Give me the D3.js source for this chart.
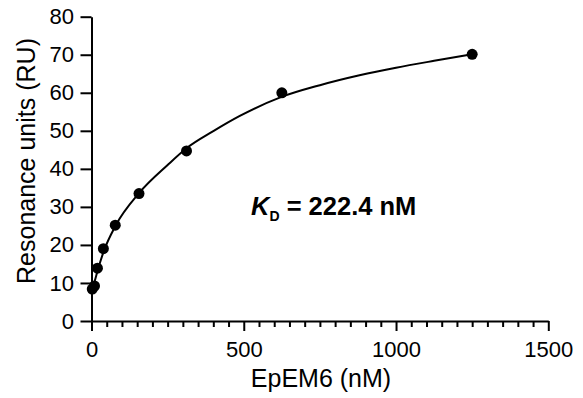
<!DOCTYPE html>
<html>
<head>
<meta charset="utf-8">
<script src="https://cdn.jsdelivr.net/npm/d3@7"></script>
<style>
  body { margin: 0; background: #fff; }
  svg text { font-family: "Liberation Sans", Arial, sans-serif; fill: #000; }
</style>
</head>
<body>
<div id="chart"></div>
<script>
// measured points (EpEM6 concentration, response)
const concentrations = [2.4, 9.8, 19.5, 39, 78, 156, 312, 625, 1250]
const responses = [8.4, 9.2, 13.9, 19.0, 25.2, 33.5, 44.7, 60.0, 70.1]

// fitted curve
const fitX = [0, 10, 20, 40, 80, 156, 250, 312, 400, 487, 620, 750, 880, 1000, 1125, 1250]
const fitY = [7.8, 10.3, 13.2, 18.3, 25.2, 33.6, 41.0, 45.4, 49.9, 53.9, 58.8, 62.0, 64.6, 66.6, 68.4, 70.1]

const xMajorTicks = [0, 500, 1000, 1500]
const yTicks = [0, 10, 20, 30, 40, 50, 60, 70, 80]

const width = 583, height = 398
const margin = {top: 16.7, right: 34.7, bottom: 77, left: 91.5}

const svg = d3.select("#chart").append("svg")
    .attr("width", width)
    .attr("height", height)

const xScale = d3.scaleLinear()
    .domain([0, 1500])
    .range([margin.left, width - margin.right])

const yScale = d3.scaleLinear()
    .domain([0, 80])
    .range([height - margin.bottom, margin.top])

// minor x ticks every 50
const xMinor = d3.range(0, 1501, 50).filter(v => v % 500 !== 0)

svg.append("g")
    .attr("transform", `translate(0,${yScale(0)})`)
    .call(d3.axisBottom(xScale).tickValues(xMinor).tickSize(6).tickSizeOuter(0).tickFormat(""))
    .call(g => g.select(".domain").remove())
    .call(g => g.selectAll("line").attr("stroke-width", 2))

const xAxis = svg.append("g")
    .attr("transform", `translate(0,${yScale(0)})`)
    .call(d3.axisBottom(xScale).tickValues(xMajorTicks).tickSize(10).tickSizeOuter(0).tickPadding(10.5).tickFormat(d3.format("d")))
xAxis.select(".domain").attr("stroke-width", 2)
xAxis.selectAll("line").attr("stroke-width", 2)
xAxis.selectAll("text").style("font-size", "22px")

const yAxis = svg.append("g")
    .attr("transform", `translate(${xScale(0)},0)`)
    .call(d3.axisLeft(yScale).tickValues(yTicks).tickSize(11).tickSizeOuter(0).tickPadding(6.5))
yAxis.select(".domain").attr("stroke-width", 2)
yAxis.selectAll("line").attr("stroke-width", 2)
yAxis.selectAll("text").style("font-size", "22px")

// axis titles
svg.append("text")
    .attr("x", 321)
    .attr("y", 387)
    .attr("text-anchor", "middle")
    .style("font-size", "25px")
    .text("EpEM6 (nM)")

svg.append("text")
    .attr("transform", "translate(35,161) rotate(-90)")
    .attr("text-anchor", "middle")
    .style("font-size", "25px")
    .text("Resonance units (RU)")

// fit curve
const line = d3.line()
    .x(d => xScale(d[0]))
    .y(d => yScale(d[1]))
    .curve(d3.curveMonotoneX)

svg.append("path")
    .datum(fitX.map((x, i) => [x, fitY[i]]))
    .attr("d", line)
    .attr("fill", "none")
    .attr("stroke", "#000")
    .attr("stroke-width", 2)

// data points
svg.selectAll(".dot")
    .data(concentrations.map((x, i) => [x, responses[i]]))
    .enter().append("circle")
    .attr("class", "dot")
    .attr("cx", d => xScale(d[0]))
    .attr("cy", d => yScale(d[1]))
    .attr("r", 5.5)
    .attr("fill", "#000")

// KD annotation
const kd = svg.append("text")
    .attr("x", 251)
    .attr("y", 215)
    .style("font-size", "25.5px")
    .style("font-weight", "bold")
kd.append("tspan").style("font-style", "italic").text("K")
kd.append("tspan").attr("dy", 6).style("font-size", "14px").text("D")
kd.append("tspan").attr("dy", -6).text(" = 222.4 nM")
</script>
</body>
</html>
